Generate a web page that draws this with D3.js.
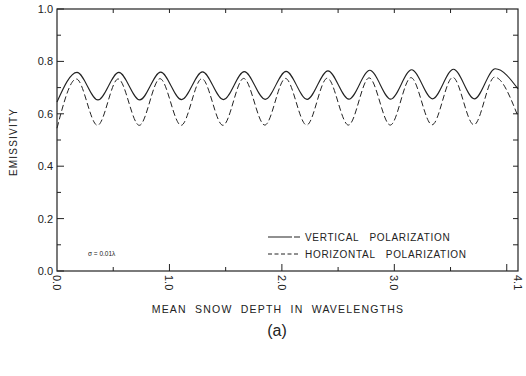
<!DOCTYPE html>
<html>
<head>
<meta charset="utf-8">
<script src="https://cdn.jsdelivr.net/npm/d3@7"></script>
<style>
  body { margin: 0; background: #fff; }
  text { font-family: "Liberation Sans", Arial, sans-serif; fill: #222; }
</style>
</head>
<body>
<div id="graph1"></div>
<script>
// depth positions (wavelengths) of the peaks / troughs
const depthV = [0.0, 0.178, 0.364, 0.550, 0.736, 0.922, 1.108, 1.294, 1.480, 1.666, 1.852, 2.038,
                2.224, 2.410, 2.596, 2.782, 2.968, 3.154, 3.340, 3.526, 3.712, 3.898, 4.1]
const vertical = [0.645, 0.758, 0.653, 0.758, 0.653, 0.759, 0.654, 0.760, 0.654, 0.761, 0.655, 0.762,
                  0.655, 0.764, 0.656, 0.766, 0.656, 0.768, 0.657, 0.770, 0.657, 0.772, 0.695]
const depthH = [0.0, 0.172, 0.360, 0.544, 0.732, 0.916, 1.104, 1.288, 1.476, 1.660, 1.848, 2.032,
                2.220, 2.404, 2.592, 2.776, 2.964, 3.148, 3.336, 3.520, 3.708, 3.892, 4.1]
const horizontal = [0.545, 0.733, 0.556, 0.733, 0.556, 0.734, 0.556, 0.734, 0.556, 0.735, 0.557, 0.735,
                    0.557, 0.736, 0.557, 0.737, 0.557, 0.738, 0.558, 0.739, 0.558, 0.740, 0.590]

const yTicks = [0.0, 0.2, 0.4, 0.6, 0.8, 1.0]
const yTickLabels = ["0.0", "0.2", "0.4", "0.6", "0.8", "1.0"]
const xTicks = [0.0, 1.0, 2.0, 3.0, 4.1]
const xTickLabels = ["0.0", "1.0", "2.0", "3.0", "4.1"]

const width = 526, height = 376
const margin = {left: 57, top: 9, right: 8, bottom: 105}
const w = width - margin.left - margin.right
const h = height - margin.top - margin.bottom
const ink = "#222"

let svg = d3.select("#graph1")
    .append("svg")
    .attr("width", width)
    .attr("height", height)

let g = svg.append("g")
    .attr("transform", `translate(${margin.left}, ${margin.top})`)

let x = d3.scaleLinear().domain([0, 4.1]).range([0, w])
let y = d3.scaleLinear().domain([0, 1]).range([h, 0])

// frame
g.append("rect")
    .attr("x", 0).attr("y", 0)
    .attr("width", w).attr("height", h)
    .attr("fill", "none")
    .attr("stroke", ink)
    .attr("stroke-width", 1.2)

// left axis ticks (pointing inward)
g.append("g").selectAll("line").data(d3.range(0, 11).map(i => i / 10))
    .enter().append("line")
    .attr("x1", 0)
    .attr("x2", (d, i) => i % 2 == 0 ? 7 : 4)
    .attr("y1", d => y(d)).attr("y2", d => y(d))
    .attr("stroke", ink)

// right axis ticks
g.append("g").selectAll("line").data(d3.range(1, 10).map(i => i / 10))
    .enter().append("line")
    .attr("x1", w)
    .attr("x2", w - 5)
    .attr("y1", d => y(d)).attr("y2", d => y(d))
    .attr("stroke", ink)

// bottom ticks
g.append("g").selectAll("line").data(d3.range(1, 9).map(i => i / 2))
    .enter().append("line")
    .attr("x1", d => x(d)).attr("x2", d => x(d))
    .attr("y1", h)
    .attr("y2", (d, i) => i % 2 == 1 ? h - 7 : h - 4)
    .attr("stroke", ink)

// top ticks
g.append("g").selectAll("line").data(d3.range(1, 9).map(i => i / 2))
    .enter().append("line")
    .attr("x1", d => x(d)).attr("x2", d => x(d))
    .attr("y1", 0).attr("y2", 4)
    .attr("stroke", ink)

// y tick labels
g.append("g").selectAll("text").data(yTicks)
    .enter().append("text")
    .attr("x", -4)
    .attr("y", d => y(d) + 4)
    .attr("text-anchor", "end")
    .style("font-size", "11px")
    .text((d, i) => yTickLabels[i])

// x tick labels, rotated
g.append("g").selectAll("text").data(xTicks)
    .enter().append("text")
    .attr("transform", d => `translate(${x(d) - 4}, ${h + 4}) rotate(90)`)
    .attr("text-anchor", "start")
    .style("font-size", "11px")
    .text((d, i) => xTickLabels[i])

// curves
let lineV = d3.line()
    .x((d, i) => x(depthV[i]))
    .y(d => y(d))
    .curve(d3.curveMonotoneX)
let lineH = d3.line()
    .x((d, i) => x(depthH[i]))
    .y(d => y(d))
    .curve(d3.curveMonotoneX)

g.append("path")
    .datum(vertical)
    .attr("d", lineV)
    .attr("fill", "none")
    .attr("stroke", ink)
    .attr("stroke-width", 1.1)

g.append("path")
    .datum(horizontal)
    .attr("d", lineH)
    .attr("fill", "none")
    .attr("stroke", ink)
    .attr("stroke-width", 1)
    .attr("stroke-dasharray", "6,3")

// legend
let legend = g.append("g").attr("transform", `translate(${211}, ${228})`)
legend.append("line")
    .attr("x1", 0).attr("x2", 32).attr("y1", 0).attr("y2", 0)
    .attr("stroke", ink).attr("stroke-width", 1.1)
    .attr("stroke-dasharray", "24,2,6,0")
legend.append("line")
    .attr("x1", 0).attr("x2", 32).attr("y1", 17).attr("y2", 17)
    .attr("stroke", ink).attr("stroke-dasharray", "4,2.5")
legend.append("text")
    .attr("x", 37).attr("y", 4)
    .style("font-size", "10px")
    .style("letter-spacing", "0.7px")
    .style("white-space", "pre")
    .text("VERTICAL   POLARIZATION")
legend.append("text")
    .attr("x", 37).attr("y", 21)
    .style("font-size", "10px")
    .style("letter-spacing", "0.7px")
    .style("white-space", "pre")
    .text("HORIZONTAL   POLARIZATION")

// roughness note
g.append("text")
    .attr("x", 31).attr("y", 247)
    .style("font-size", "6.5px")
    .text("σ = 0.01λ")

// axis titles
svg.append("text")
    .attr("transform", `translate(17, 142) rotate(-90)`)
    .attr("text-anchor", "middle")
    .style("font-size", "10px")
    .style("letter-spacing", "1.2px")
    .text("EMISSIVITY")

svg.append("text")
    .attr("x", 278).attr("y", 313)
    .attr("text-anchor", "middle")
    .style("font-size", "10.5px")
    .style("letter-spacing", "1.2px")
    .style("white-space", "pre")
    .text("MEAN  SNOW  DEPTH  IN  WAVELENGTHS")

svg.append("text")
    .attr("x", 277).attr("y", 336)
    .attr("text-anchor", "middle")
    .style("font-size", "16px")
    .text("(a)")
</script>
</body>
</html>
